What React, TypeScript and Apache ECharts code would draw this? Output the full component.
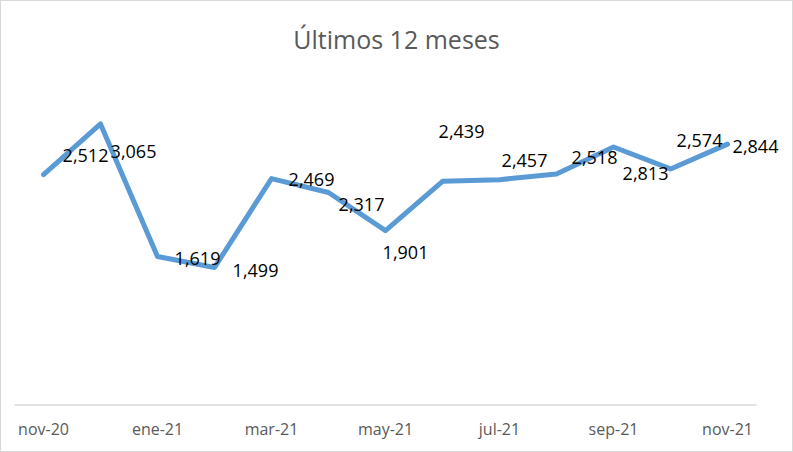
import React, { useEffect, useRef } from "react";
import * as echarts from "echarts";

const categories = [
  "nov-20", "dic-20", "ene-21", "feb-21", "mar-21", "abr-21", "may-21",
  "jun-21", "jul-21", "ago-21", "sep-21", "oct-21", "nov-21",
];
const values = [2512, 3065, 1619, 1499, 2469, 2317, 1901, 2439, 2457, 2518, 2813, 2574, 2844];
// label offsets (dx, dy) from each point, as Excel placed them
const labelOffsets: [number, number][] = [
  [42, -20], [33, 27], [40, 1], [41, 2], [40, 0], [33, 12], [20, 21],
  [19, -50], [25, -20], [38, -17], [32, 26], [29, -29], [28, 2],
];

export default function App() {
  const ref = useRef<HTMLDivElement>(null);
  useEffect(() => {
    document.body.style.margin = "0";
    const chart = echarts.init(ref.current!, null, { renderer: "svg" });
    chart.setOption({
      animation: false,
      backgroundColor: "#ffffff",
      title: {
        text: "Últimos 12 meses",
        left: "center",
        top: 20,
        textStyle: {
          fontFamily: "Open Sans",
          fontSize: 25,
          fontWeight: "normal",
          color: "#595959",
        },
      },
      grid: { left: 14, right: 36, top: 83, bottom: 46 },
      xAxis: {
        type: "category",
        data: categories,
        boundaryGap: true,
        axisLine: { lineStyle: { color: "#d9d9d9", width: 1.5 } },
        axisTick: { show: false },
        axisLabel: {
          interval: 1,
          color: "#595959",
          fontFamily: "Open Sans",
          fontSize: 16,
          margin: 16,
        },
      },
      yAxis: {
        type: "value",
        min: 0,
        max: 3500,
        show: false,
        splitLine: { show: false },
      },
      series: [
        {
          type: "line",
          data: values.map((v, i) => ({
            value: v,
            label: { offset: labelOffsets[i] },
          })),
          symbol: "circle",
          symbolSize: 2,
          showSymbol: true,
          itemStyle: { color: "rgba(0,0,0,0)", borderWidth: 0 },
          lineStyle: { color: "#5b9bd5", width: 5, cap: "round", join: "round" },
          label: {
            show: true,
            position: "inside",
            align: "center",
            verticalAlign: "middle",
            color: "#000000",
            fontFamily: "Open Sans",
            fontSize: 18,
            formatter: (p: any) => Number(p.value).toLocaleString("en-US"),
          },
        },
      ],
    });
    return () => chart.dispose();
  }, []);
  return (
    <div
      style={{
        width: 793,
        height: 452,
        boxSizing: "border-box",
        border: "1px solid #d9d9d9",
      }}
    >
      <div ref={ref} style={{ width: 791, height: 450 }} />
    </div>
  );
}
